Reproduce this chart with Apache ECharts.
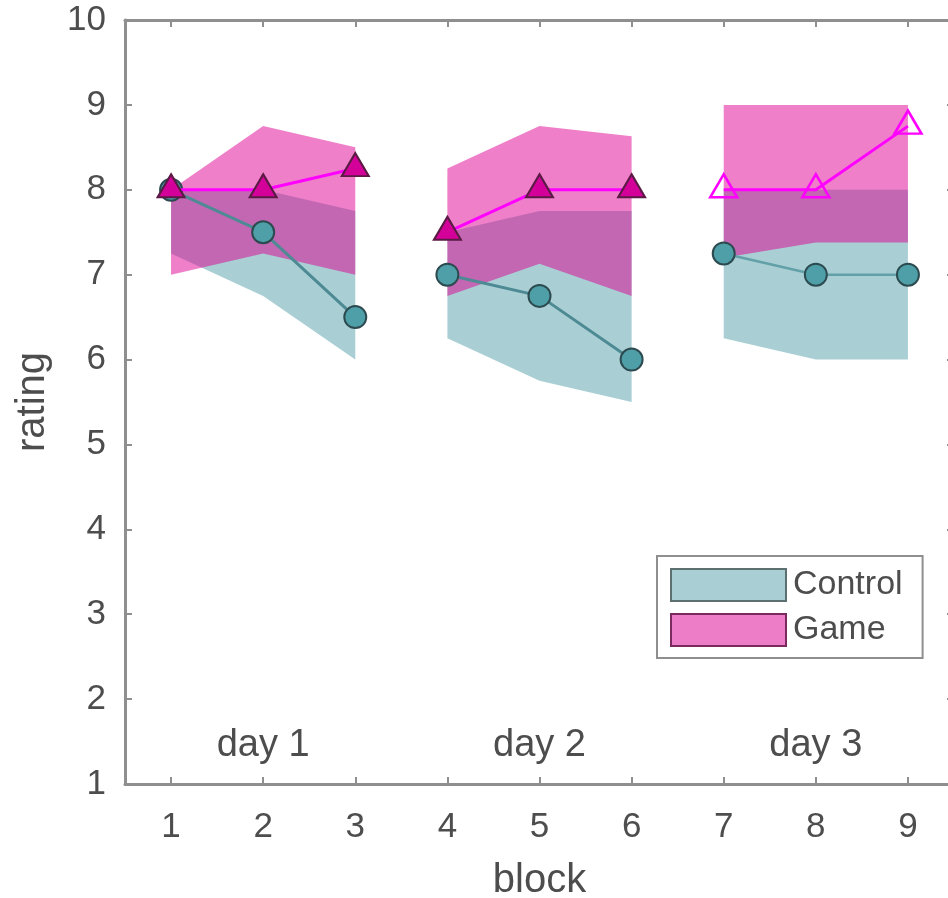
<!DOCTYPE html>
<html>
<head>
<meta charset="utf-8">
<script src="https://cdn.jsdelivr.net/npm/echarts@6/dist/echarts.min.js"></script>
<style>
  html, body { margin: 0; padding: 0; background: #ffffff; }
  #chart { width: 948px; height: 898px; }
</style>
</head>
<body>
<div id="chart"></div>
<script>
// ---- data ----
const blocks = ['1', '2', '3', '4', '5', '6', '7', '8', '9'];
const yTicks = [1, 2, 3, 4, 5, 6, 7, 8, 9, 10];
const dayNames = ['day 1', 'day 2', 'day 3'];
const dayBlocks = [[0, 1, 2], [3, 4, 5], [6, 7, 8]];
const dayLabelBlock = ['2', '5', '8'];
const dayLabelRating = 1.45;

const controlMean  = [8, 7.5, 6.5, 7, 6.75, 6, 7.25, 7, 7];
const controlLower = [7.25, 6.75, 6, 6.25, 5.75, 5.5, 6.25, 6, 6];
const controlUpper = [8, 8, 7.75, 7.5, 7.75, 7.75, 8, 8, 8];

const gameMean  = [8, 8, 8.25, 7.5, 8, 8, 8, 8, 8.75];
const gameLower = [7, 7.25, 7, 6.75, 7.13, 6.75, 7.2, 7.38, 7.38];
const gameUpper = [8, 8.75, 8.5, 8.25, 8.75, 8.63, 9, 9, 9];

// ---- styles ----
const FONT = '"Liberation Sans", Arial, sans-serif';
const TXT = '#4d4d4d';
const AXC = '#8f8f8f';

function bandSeries(name, lower, upper, fill) {
  return {
    type: 'custom',
    name: name,
    z: 1,
    silent: true,
    itemStyle: { color: fill },
    encode: { x: 0, y: 1 },
    data: dayBlocks.map((b, d) => [blocks[b[0]], lower[b[0]], d]),
    renderItem: function (params, api) {
      const idx = dayBlocks[params.dataIndex];
      const pts = [];
      idx.forEach(i => pts.push(api.coord([i, upper[i]])));
      idx.slice().reverse().forEach(i => pts.push(api.coord([i, lower[i]])));
      return {
        type: 'polygon',
        shape: { points: pts },
        style: { fill: fill, stroke: null }
      };
    }
  };
}

function dayLine(name, values, d, opts) {
  const set = new Set(dayBlocks[d]);
  return Object.assign({
    type: 'line',
    name: name,
    data: values.map((v, i) => set.has(i) ? v : '-'),
    connectNulls: false,
    z: 5
  }, opts);
}

const series = [];
series.push(bandSeries('Control', controlLower, controlUpper, 'rgba(83,159,169,0.5)'));
series.push(bandSeries('Game', gameLower, gameUpper, 'rgba(221,0,145,0.5)'));

for (let d = 0; d < 3; d++) {
  series.push(dayLine('control mean ' + (d + 1), controlMean, d, {
    symbol: 'circle',
    symbolSize: 22,
    lineStyle: { color: d < 2 ? '#4d8a94' : '#63a0a8', width: d < 2 ? 3 : 2.5 },
    itemStyle: { color: '#4e9fa7', borderColor: '#2c4a4f', borderWidth: 2 },
    z: 5
  }));
}
for (let d = 0; d < 3; d++) {
  const hollow = d === 2;
  series.push(dayLine('game mean ' + (d + 1), gameMean, d, {
    symbol: 'triangle',
    symbolSize: [27, 23],
    symbolOffset: [0, -4],
    lineStyle: { color: '#ff00ff', width: 3 },
    itemStyle: hollow
      ? { color: 'rgba(0,0,0,0)', borderColor: '#ff00ff', borderWidth: 2.5 }
      : { color: '#d4009a', borderColor: '#5a1a44', borderWidth: 2 },
    z: 6
  }));
}

series.push({
  type: 'scatter',
  name: 'day labels',
  symbolSize: 0,
  silent: true,
  itemStyle: { opacity: 1 },
  data: dayNames.map((n, i) => ({ value: [dayLabelBlock[i], dayLabelRating], name: n })),
  label: {
    show: true,
    position: 'inside',
    formatter: p => p.name,
    fontSize: 38,
    color: TXT,
    opacity: 1,
    fontFamily: FONT
  },
  z: 7
});

const chart = echarts.init(document.getElementById('chart'), null, { renderer: 'canvas' });
chart.setOption({
  animation: false,
  backgroundColor: '#ffffff',
  grid: { left: 125, top: 20, right: -6, bottom: 114, outerBoundsMode: 'none', containLabel: false },
  legend: {
    orient: 'vertical',
    left: 657,
    top: 556,
    padding: [12, 20, 11, 13],
    itemGap: 11,
    itemWidth: 115,
    itemHeight: 32,
    backgroundColor: '#ffffff',
    borderColor: AXC,
    borderWidth: 2,
    borderRadius: 0,
    selectedMode: false,
    textStyle: { fontSize: 34, color: TXT, fontFamily: FONT, lineHeight: 32, padding: [0, 0, 0, 2] },
    data: [
      { name: 'Control', icon: 'rect', itemStyle: { color: '#a9cfd4', borderColor: '#5d7070', borderWidth: 2 } },
      { name: 'Game', icon: 'rect', itemStyle: { color: '#ee7dc8', borderColor: '#7b2a60', borderWidth: 2 } }
    ]
  },
  xAxis: [
    {
      type: 'category',
      data: blocks,
      boundaryGap: true,
      position: 'bottom',
      name: 'block',
      nameLocation: 'middle',
      nameGap: 77,
      nameTextStyle: { fontSize: 40, color: TXT, fontFamily: FONT },
      axisLine: { show: true, lineStyle: { color: AXC, width: 3 } },
      axisTick: { show: true, inside: true, alignWithLabel: true, length: 7, lineStyle: { color: AXC, width: 2 } },
      axisLabel: { fontSize: 35, color: TXT, fontFamily: FONT, margin: 26 },
      splitLine: { show: false }
    },
    {
      type: 'category',
      data: blocks,
      boundaryGap: true,
      position: 'top',
      axisLine: { show: true, lineStyle: { color: AXC, width: 3 } },
      axisTick: { show: true, inside: true, alignWithLabel: true, length: 7, lineStyle: { color: AXC, width: 2 } },
      axisLabel: { show: false },
      splitLine: { show: false }
    }
  ],
  yAxis: [
    {
      type: 'value',
      min: 1,
      max: 10,
      interval: 1,
      position: 'left',
      name: 'rating',
      nameLocation: 'middle',
      nameGap: 72,
      nameRotate: 90,
      nameTextStyle: { fontSize: 40, color: TXT, fontFamily: FONT },
      axisLine: { show: true, lineStyle: { color: AXC, width: 3 } },
      axisTick: { show: true, inside: true, length: 7, lineStyle: { color: AXC, width: 2 } },
      axisLabel: { fontSize: 35, color: TXT, fontFamily: FONT, margin: 19,
                   formatter: v => (yTicks.indexOf(v) >= 0 ? String(v) : '') },
      splitLine: { show: false }
    },
    {
      type: 'value',
      min: 1,
      max: 10,
      interval: 1,
      position: 'right',
      axisLine: { show: true, lineStyle: { color: AXC, width: 3 } },
      axisTick: { show: true, inside: true, length: 7, lineStyle: { color: AXC, width: 2 } },
      axisLabel: { show: false },
      splitLine: { show: false }
    }
  ],
  series: series
});
</script>
</body>
</html>
